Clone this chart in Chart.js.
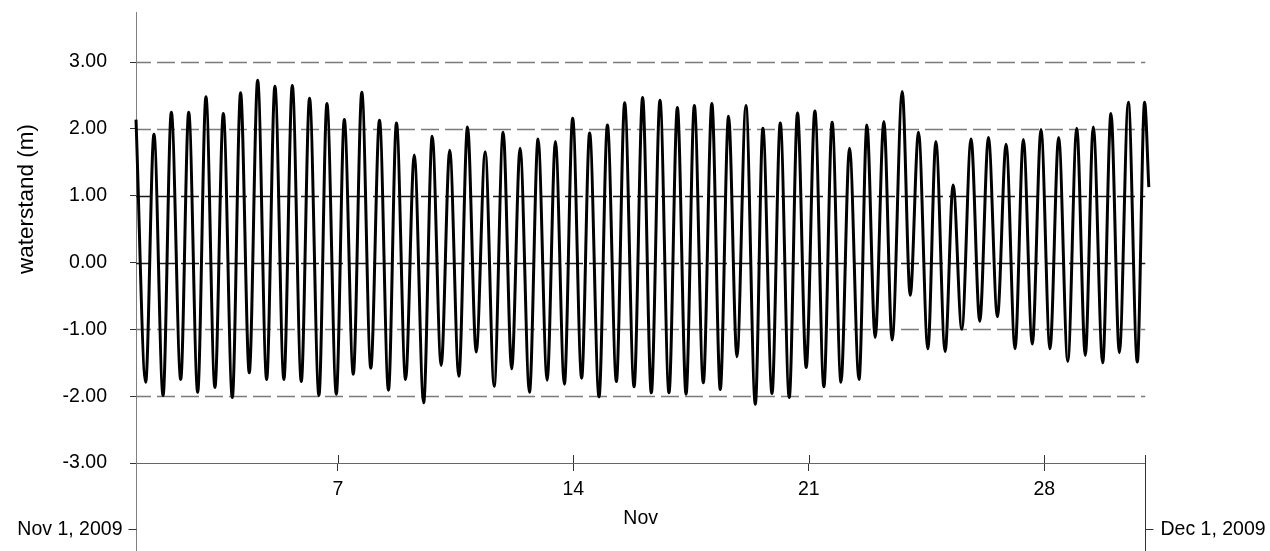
<!DOCTYPE html>
<html>
<head>
<meta charset="utf-8">
<script src="https://cdn.jsdelivr.net/npm/chart.js@4.4.1/dist/chart.umd.min.js"></script>
<style>
html,body{margin:0;padding:0;background:#fff;}
#wrap{width:1270px;height:551px;position:relative;}
</style>
</head>
<body>
<div id="wrap"><canvas id="c" width="1270" height="551"></canvas></div>
<script>
// hours since Nov 1, 2009 00:00 at each high / low water
const hours = [
  0, 6.9, 12.8, 19.3, 25.2, 31.9, 37.6, 44.0, 49.9, 56.3,
  62.3, 68.7, 74.6, 80.8, 86.8, 93.2, 99.1, 105.5, 111.5, 117.9,
  123.8, 130.5, 136.2, 142.9, 148.6, 155.0, 161.1, 167.5, 173.7, 180.1,
  185.8, 192.3, 198.5, 205.2, 211.3, 217.7, 223.8, 230.3, 236.5, 242.7,
  249.1, 255.5, 261.9, 268.0, 274.0, 280.7, 286.8, 293.3, 299.2, 305.6,
  311.5, 317.9, 323.6, 330.3, 336.3, 342.7, 348.6, 355.3, 361.4, 367.6,
  373.8, 380.2, 386.2, 392.4, 398.3, 404.7, 410.8, 416.8, 422.7, 428.7,
  435.1, 441.8, 447.2, 453.7, 459.6, 466.0, 471.9, 478.1, 484.3, 490.7,
  496.6, 502.9, 509.0, 515.8, 521.4, 527.3, 533.5, 539.4, 546.6, 552.3,
  558.2, 564.9, 570.6, 577.2, 582.9, 589.1, 595.7, 601.9, 608.1, 614.5,
  620.7, 627.1, 633.0, 639.4, 645.6, 652.0, 658.2, 664.7, 671.1, 677.2,
  682.9, 689.6, 695.5, 701.5, 707.9, 714.3, 719.5, 722.5
];
// water level (m)
const waterLevel = [
  2.14, -1.79, 1.92, -1.99, 2.25, -1.75, 2.25, -1.94, 2.48, -1.87,
  2.23, -2.02, 2.54, -1.65, 2.73, -1.75, 2.64, -1.75, 2.65, -1.78,
  2.46, -1.99, 2.38, -1.97, 2.14, -1.67, 2.55, -1.58, 2.13, -1.91,
  2.09, -1.75, 1.61, -2.10, 1.89, -1.54, 1.68, -1.70, 2.03, -1.34,
  1.66, -1.85, 1.95, -1.59, 1.71, -1.94, 1.85, -1.76, 1.81, -1.82,
  2.16, -1.73, 1.94, -2.01, 2.06, -1.78, 2.39, -1.86, 2.47, -1.95,
  2.43, -1.95, 2.32, -1.97, 2.35, -1.80, 2.38, -1.90, 2.19, -1.41,
  2.35, -2.12, 2.01, -1.96, 2.09, -2.02, 2.24, -1.57, 2.27, -1.86,
  2.10, -1.79, 1.71, -1.75, 2.06, -1.12, 2.11, -1.16, 2.56, -0.49,
  1.95, -1.29, 1.81, -1.33, 1.16, -1.00, 1.85, -0.88, 1.87, -0.81,
  1.77, -1.29, 1.84, -1.22, 1.99, -1.29, 1.87, -1.48, 2.01, -1.39,
  2.03, -1.50, 2.23, -1.35, 2.40, -1.49, 2.40, 1.13
];
const yTickValues = [-3, -2, -1, 0, 1, 2, 3];
const darkGridValues = [0, 1];
const xTickDays = [7, 14, 21, 28];
const periodDays = 30;
const yAxisTitle = 'waterstand (m)';
const xAxisTitle = 'Nov';
const startLabel = 'Nov 1, 2009';
const endLabel = 'Dec 1, 2009';

const FONT = 'Liberation Sans, Arial, Helvetica, sans-serif';
const FS = 19.5;
const TITLE_FS = 22.5;

const extras = {
  id: 'extras',
  beforeDatasetsDraw(chart) {
    const {ctx, chartArea: ca, scales: {y}} = chart;
    ctx.save();
    yTickValues.forEach(v => {
      if (v === y.min) return;
      const py = Math.round(y.getPixelForValue(v)) + 0.5;
      ctx.beginPath();
      ctx.setLineDash([18, 6]);
      ctx.lineDashOffset = 3;
      ctx.lineWidth = 1.4;
      ctx.strokeStyle = darkGridValues.includes(v) ? '#1a1a1a' : '#7a7a7a';
      ctx.moveTo(ca.left, py);
      ctx.lineTo(ca.right, py);
      ctx.stroke();
    });
    ctx.restore();
  },
  afterDraw(chart) {
    const {ctx, chartArea: ca, scales: {x}} = chart;
    const H = chart.height;
    ctx.save();
    ctx.setLineDash([]);
    ctx.lineWidth = 1;
    ctx.strokeStyle = '#333';
    xTickDays.forEach(d => {
      const px = Math.round(x.getPixelForValue((d - 1) * 24)) + 0.5;
      ctx.beginPath();
      ctx.moveTo(px, ca.bottom);
      ctx.lineTo(px, ca.bottom - 8);
      ctx.stroke();
    });
    const lx = Math.round(ca.left) + 0.5;
    const rx = Math.round(ca.right) + 0.5;
    const ty = 529.5;
    ctx.strokeStyle = '#808080';
    ctx.beginPath(); ctx.moveTo(lx, ca.bottom); ctx.lineTo(lx, H); ctx.stroke();
    ctx.strokeStyle = '#333';
    ctx.beginPath(); ctx.moveTo(lx - 8, ty); ctx.lineTo(lx, ty); ctx.stroke();
    ctx.beginPath(); ctx.moveTo(rx, ca.bottom - 8); ctx.lineTo(rx, H); ctx.stroke();
    ctx.beginPath(); ctx.moveTo(rx, ty); ctx.lineTo(rx + 8, ty); ctx.stroke();
    ctx.fillStyle = '#000';
    ctx.font = FS + 'px ' + FONT;
    ctx.textBaseline = 'middle';
    ctx.textAlign = 'right';
    ctx.fillText(startLabel, lx - 14, ty);
    ctx.textAlign = 'left';
    ctx.fillText(endLabel, rx + 15, ty);
    ctx.save();
    ctx.font = TITLE_FS + 'px ' + FONT;
    ctx.translate(27, 199);
    ctx.rotate(-Math.PI / 2);
    ctx.textAlign = 'center';
    ctx.fillText(yAxisTitle, 0, 0);
    ctx.restore();
    ctx.restore();
  }
};

new Chart(document.getElementById('c'), {
  type: 'line',
  data: {
    datasets: [{
      data: hours.map((h, i) => ({x: h, y: waterLevel[i]})),
      borderColor: '#000',
      borderWidth: 3,
      pointRadius: 0,
      cubicInterpolationMode: 'monotone',
      clip: false
    }]
  },
  options: {
    responsive: false,
    animation: false,
    devicePixelRatio: 1,
    layout: {padding: {top: 12, right: 124.7, left: 0, bottom: 0}},
    plugins: {legend: {display: false}, tooltip: {enabled: false}},
    scales: {
      x: {
        type: 'linear',
        min: 0,
        max: periodDays * 24,
        afterBuildTicks: s => { s.ticks = xTickDays.map(d => ({value: (d - 1) * 24})); },
        afterFit: s => { s.height = 88; s.paddingLeft = 0; s.paddingRight = 0; },
        ticks: {
          callback: v => String(v / 24 + 1),
          font: {family: FONT, size: FS},
          color: '#000',
          padding: 7,
          maxRotation: 0,
          autoSkip: false
        },
        grid: {drawOnChartArea: false, drawTicks: true, tickLength: 8, tickColor: '#333', tickWidth: 1},
        border: {display: true, color: '#666', width: 1},
        title: {display: true, text: xAxisTitle, font: {family: FONT, size: FS}, color: '#000', padding: {top: 0, bottom: 21}}
      },
      y: {
        type: 'linear',
        min: -3,
        max: 3.75,
        afterBuildTicks: s => { s.ticks = yTickValues.map(v => ({value: v})); },
        afterFit: s => { s.width = 136; s.paddingTop = 0; s.paddingBottom = 0; },
        ticks: {
          callback: v => Number(v).toFixed(2),
          font: {family: FONT, size: FS},
          color: '#000',
          padding: 23
        },
        grid: {drawOnChartArea: false, drawTicks: true, tickLength: 6, tickColor: '#333', tickWidth: 1},
        border: {display: true, color: '#808080', width: 1}
      }
    }
  },
  plugins: [extras]
});
</script>
</body>
</html>
